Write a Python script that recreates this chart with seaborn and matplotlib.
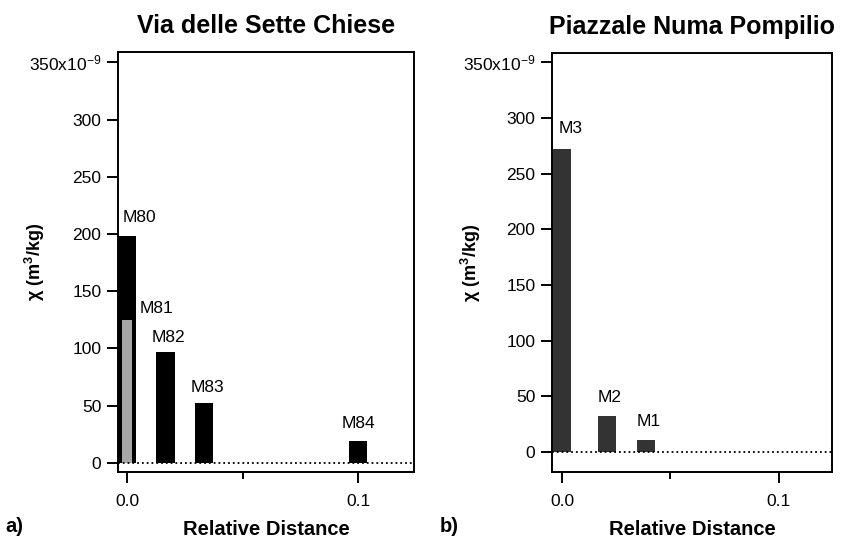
import numpy as np
import seaborn as sns
import matplotlib
import matplotlib.pyplot as plt

# Headless Backend
matplotlib.use("Agg")

# Panel a) Via delle Sette Chiese: black samples, plus M81 drawn in grey on top of M80
a_names = ["M80", "M82", "M83", "M84"]
a_dist = [0.0, 0.0167, 0.0333, 0.1]
a_chi = [198, 97, 52, 19]
a_grey_names = ["M81"]
a_grey_dist = [0.0]
a_grey_chi = [125]

# Panel b) Piazzale Numa Pompilio
b_names = ["M3", "M2", "M1"]
b_dist = [0.0, 0.021, 0.039]
b_chi = [272, 32, 11]

y_ticks = [0, 50, 100, 150, 200, 250, 300, 350]
y_ticklabels = ["0", "50", "100", "150", "200", "250", "300", "350x10$^{-9}$"]
x_ticks = [0.0, 0.1]
x_ticklabels = ["0.0", "0.1"]

sns.set_theme(style="ticks")
plt.rcParams["font.family"] = ["Liberation Sans", "DejaVu Sans"]
plt.rcParams["mathtext.default"] = "regular"
for key in ["text.color", "axes.labelcolor", "xtick.color", "ytick.color", "axes.edgecolor"]:
    plt.rcParams[key] = "black"

fig = plt.figure(figsize=(8.43, 5.46), dpi=100)
axA = fig.add_axes([0.140, 0.1355, 0.351, 0.769])
axB = fig.add_axes([0.6548, 0.1355, 0.332, 0.767])

bar_w = 0.0079  # width of bars in data units


def bars(ax, dist, chi, color, width):
    # native_scale width is relative to the smallest gap between x values
    gap = np.min(np.diff(dist)) if len(dist) > 1 else 1
    sns.barplot(x=dist, y=chi, native_scale=True, orient="x", width=width / gap,
                color=color, saturation=1, errorbar=None, linewidth=0, ax=ax)


def label_bars(ax, dist, chi, names, offsets):
    for x, y, n, (dx, dy) in zip(dist, chi, names, offsets):
        ax.annotate(n, (x, y), xytext=(dx, dy), textcoords="offset pixels",
                    ha="center", va="center", fontsize=12.5)


def style_axes(ax, title, ylim, xlim):
    ax.set_ylim(*ylim)
    ax.set_xlim(*xlim)
    ax.axhline(0, color="black", ls=":", lw=1.3, zorder=5)
    ax.set_yticks(y_ticks, y_ticklabels, fontsize=12.5)
    ax.set_xticks(x_ticks, x_ticklabels, fontsize=12.5)
    ax.set_xticks([0.05], minor=True)
    ax.tick_params(axis="both", which="major", direction="out", length=8, width=1.4,
                   color="black", pad=4)
    ax.tick_params(axis="x", which="minor", direction="out", length=5, width=1.4, color="black")
    ax.tick_params(axis="x", which="major", pad=8)
    for s in ax.spines.values():
        s.set_visible(True)
        s.set_linewidth(1.4)
        s.set_color("black")
    ax.set_title(title, fontsize=18, fontweight="bold", pad=14)
    ax.set_xlabel("Relative Distance", fontsize=14.5, fontweight="bold")
    ax.xaxis.set_label_coords(0.5, -0.114)
    ax.set_ylabel("$\\chi$ (m$^3$/kg)", fontsize=13, fontweight="bold")


bars(axA, a_dist, a_chi, "black", bar_w)
bars(axA, a_grey_dist, a_grey_chi, "#a6a6a6", bar_w * 0.5)
label_bars(axA, a_dist, a_chi, a_names, [(12, 19), (3, 14), (3, 16), (0, 18)])
label_bars(axA, a_grey_dist, a_grey_chi, a_grey_names, [(29, 11)])
style_axes(axA, "Via delle Sette Chiese", (-8, 359), (-0.0039, 0.1242))
axA.yaxis.set_label_coords(-0.24, 0.5)

bars(axB, b_dist, b_chi, "#333333", bar_w + 0.0004)
label_bars(axB, b_dist, b_chi, b_names, [(9, 21), (2, 19), (2, 18)])
style_axes(axB, "Piazzale Numa Pompilio", (-18, 358), (-0.0046, 0.1246))
axB.yaxis.set_label_coords(-0.245, 0.5)

fig.text(0.006, 1 - 527 / 546, "a)", fontsize=14.5, fontweight="bold", va="center")
fig.text(440 / 843, 1 - 527 / 546, "b)", fontsize=14.5, fontweight="bold", va="center")

fig.savefig("out.png", dpi=100, facecolor="white")
plt.close()
